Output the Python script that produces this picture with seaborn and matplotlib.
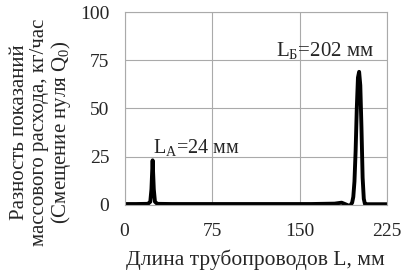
import pandas as pd
import matplotlib.pyplot as plt
import seaborn as sns

# Длина трубопровода, мм
L_mm = [0, 10, 20, 22, 23, 24, 25, 26, 28, 40, 100, 160, 180, 186, 190, 193,
        195, 196, 197, 198, 199, 200, 201, 202, 203, 204, 205, 206, 208, 225]
# Разность показаний, кг/час
dQ = [0.3, 0.3, 0.4, 1.5, 8, 23, 8, 1.5, 0.4, 0.3, 0.3, 0.3, 0.5, 1.0, 0.0, -0.8,
      1, 4, 12, 28, 50, 66, 69, 62, 40, 14, 3, 0.3, 0.2, 0.2]

xticks = [0, 75, 150, 225]
yticks = [0, 25, 50, 75, 100]

df = pd.DataFrame({"L": L_mm, "dQ": dQ})

sns.set_style("white")
plt.rcParams["font.family"] = ["Liberation Serif", "DejaVu Serif"]
plt.rcParams["mathtext.fontset"] = "custom"
plt.rcParams["mathtext.rm"] = "Liberation Serif"
plt.rcParams["mathtext.it"] = "Liberation Serif"

fig, ax = plt.subplots(figsize=(4.02, 2.71), dpi=100)
sns.lineplot(data=df, x="L", y="dQ", color="black", linewidth=2.8, ax=ax)

ax.set_xlim(0, 225)
ax.set_ylim(0, 100)
ax.set_xticks(xticks)
ax.set_yticks(yticks)
ax.grid(True, color="#aaaaaa", linewidth=0.8)
for s in ax.spines.values():
    s.set_color("#aaaaaa")
    s.set_linewidth(0.8)
ax.tick_params(labelsize=14, length=0)
ax.tick_params(axis="y", pad=11)
ax.tick_params(axis="x", pad=13)

ax.set_xlabel("Длина трубопроводов L, мм", fontsize=15.5, labelpad=7)
ax.set_ylabel("Разность показаний\nмассового расхода, кг/час\n(Смещение нуля Q$_0$)",
              fontsize=15, linespacing=1.05)
ax.yaxis.set_label_coords(-0.195, 0.375)

ax.text(24, 27, "L$_\\mathrm{A}$=24 мм", fontsize=14.5)
ax.text(130, 77, "L$_\\mathrm{Б}$=202 мм", fontsize=15)

plt.subplots_adjust(left=0.31, right=0.963, top=0.955, bottom=0.245)
plt.savefig("out.png", dpi=100)
